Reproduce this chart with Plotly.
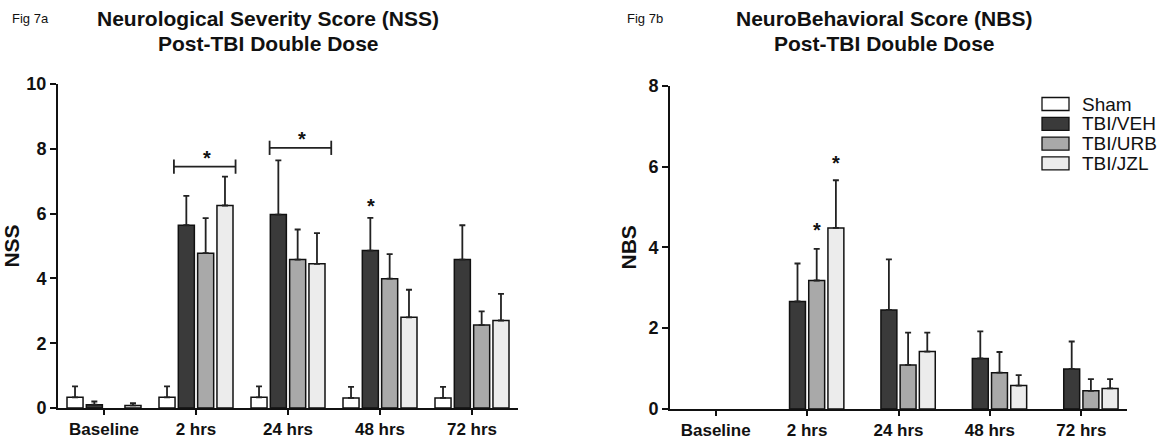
import plotly.graph_objects as go

categories = ["Baseline", "2 hrs", "24 hrs", "48 hrs", "72 hrs"]
groups = ["Sham", "TBI/VEH", "TBI/URB", "TBI/JZL"]
colors = ["#ffffff", "#3a3a3a", "#a9a9a9", "#ececec"]

# Fig 7a - NSS
nss_sham = [0.33, 0.33, 0.33, 0.31, 0.31]
nss_sham_err = [0.34, 0.34, 0.34, 0.34, 0.34]
nss_veh = [0.10, 5.64, 5.97, 4.86, 4.58]
nss_veh_err = [0.10, 0.91, 1.67, 1.01, 1.06]
nss_urb = [0.0, 4.78, 4.58, 3.99, 2.56]
nss_urb_err = [0.0, 1.08, 0.93, 0.76, 0.42]
nss_jzl = [0.08, 6.25, 4.45, 2.80, 2.70]
nss_jzl_err = [0.07, 0.89, 0.95, 0.85, 0.82]

# Fig 7b - NBS
nbs_sham = [0, 0, 0, 0, 0]
nbs_sham_err = [0, 0, 0, 0, 0]
nbs_veh = [0, 2.66, 2.45, 1.25, 0.99]
nbs_veh_err = [0, 0.94, 1.25, 0.67, 0.68]
nbs_urb = [0, 3.18, 1.09, 0.90, 0.45]
nbs_urb_err = [0, 0.78, 0.80, 0.51, 0.29]
nbs_jzl = [0, 4.48, 1.42, 0.58, 0.51]
nbs_jzl_err = [0, 1.18, 0.47, 0.26, 0.23]

nss_series = [(nss_sham, nss_sham_err), (nss_veh, nss_veh_err), (nss_urb, nss_urb_err), (nss_jzl, nss_jzl_err)]
nbs_series = [(nbs_sham, nbs_sham_err), (nbs_veh, nbs_veh_err), (nbs_urb, nbs_urb_err), (nbs_jzl, nbs_jzl_err)]

# significance marks: (x start, x end, y) in category units / data units
nss_brackets = [(0.76, 1.43, 7.45), (1.80, 2.47, 8.03)]
nss_stars = [(1.12, 7.85), (2.15, 8.43), (2.90, 6.35)]
nbs_stars = [(1.11, 4.52), (1.32, 6.19)]

FONT = "Liberation Sans, Arial, sans-serif"
INK = "#111111"
W, H = 1169, 441

fig = go.Figure()


def add_bars(series, xa, ya):
    for i, (name, col) in enumerate(zip(groups, colors)):
        vals, errs = series[i]
        # zero-height bars are not drawn in the original figure
        fig.add_trace(go.Bar(
            x=categories, y=[v if v > 0 else None for v in vals], name=name, xaxis=xa, yaxis=ya,
            marker=dict(color=col, line=dict(color=INK, width=1.5)),
            error_y=dict(type="data", symmetric=False,
                         array=[e if e > 0 else None for e in errs],
                         arrayminus=[0] * len(errs),
                         color="#222222", thickness=1.8, width=3),
            showlegend=False,
        ))


add_bars(nss_series, "x", "y")
add_bars(nbs_series, "x2", "y2")

axis_common = dict(showgrid=False, zeroline=False, showline=True, linecolor=INK, linewidth=2,
                   tickwidth=2, tickcolor=INK, automargin=False, ticks="outside")
xtick = dict(ticklen=5, tickfont=dict(family=FONT, size=17, color=INK, weight="bold"))
ytick = dict(ticklen=6, tickfont=dict(family=FONT, size=18, color=INK, weight="bold"))
ytitle_font = dict(family=FONT, size=21, color=INK, weight="bold")

fig.update_layout(
    width=W, height=H,
    margin=dict(l=0, r=0, t=0, b=0, pad=0, autoexpand=False),
    paper_bgcolor="white", plot_bgcolor="white",
    barmode="group", bargap=0.16, bargroupgap=0.17,
    showlegend=False,
    xaxis=dict(domain=[58 / W, 518 / W], anchor="y", range=[-0.5, 4.5], **axis_common, **xtick),
    yaxis=dict(domain=[1 - 408 / H, 1 - 84 / H], anchor="x", range=[0, 10], tickvals=[0, 2, 4, 6, 8, 10],
               title=dict(text="NSS", font=ytitle_font, standoff=6), **axis_common, **ytick),
    xaxis2=dict(domain=[670 / W, 1127 / W], anchor="y2", range=[-0.5, 4.5], **axis_common, **xtick),
    yaxis2=dict(domain=[1 - 409 / H, 1 - 85.7 / H], anchor="x2", range=[0, 8], tickvals=[0, 2, 4, 6, 8],
                title=dict(text="NBS", font=ytitle_font, standoff=6), **axis_common, **ytick),
)

shapes = []
for x0, x1, y in nss_brackets:
    shapes.append(dict(type="line", xref="x", yref="y", x0=x0, x1=x1, y0=y, y1=y, line=dict(color="#222", width=1.8)))
    for xx in (x0, x1):
        shapes.append(dict(type="line", xref="x", yref="y", x0=xx, x1=xx, y0=y - 0.22, y1=y + 0.22,
                           line=dict(color="#222", width=1.8)))

annotations = []
star_font = dict(family=FONT, size=20, color=INK, weight="bold")
for x, y in nss_stars:
    annotations.append(dict(x=x, y=y, xref="x", yref="y", text="*", showarrow=False,
                            font=star_font, yanchor="middle", yshift=-4))
for x, y in nbs_stars:
    annotations.append(dict(x=x, y=y, xref="x2", yref="y2", text="*", showarrow=False,
                            font=star_font, yanchor="middle", yshift=-4))

# legend (top right of Fig 7b)
for i, (name, col) in enumerate(zip(groups, colors)):
    yc = 104 + i * 19.8
    shapes.append(dict(type="rect", xref="paper", yref="paper",
                       x0=1042 / W, x1=1069 / W, y0=1 - (yc + 6.5) / H, y1=1 - (yc - 6.5) / H,
                       fillcolor=col, line=dict(color=INK, width=1.3)))
    annotations.append(dict(x=1080 / W, y=1 - yc / H, xref="paper", yref="paper", xanchor="left",
                            yanchor="middle", text=name, showarrow=False,
                            font=dict(family=FONT, size=19, color=INK)))

title_font = dict(family=FONT, size=21, color=INK, weight="bold")
small_font = dict(family=FONT, size=13, color=INK)
annotations += [
    dict(x=10 / W, y=1 - 19 / H, xref="paper", yref="paper", xanchor="left", yanchor="middle",
         text="Fig 7a", showarrow=False, font=small_font),
    dict(x=625 / W, y=1 - 19 / H, xref="paper", yref="paper", xanchor="left", yanchor="middle",
         text="Fig 7b", showarrow=False, font=small_font),
    dict(x=268 / W, y=1 - 19 / H, xref="paper", yref="paper", xanchor="center", yanchor="middle",
         text="Neurological Severity Score (NSS)", showarrow=False, font=title_font),
    dict(x=268 / W, y=1 - 43 / H, xref="paper", yref="paper", xanchor="center", yanchor="middle",
         text="Post-TBI Double Dose", showarrow=False, font=title_font),
    dict(x=884 / W, y=1 - 19 / H, xref="paper", yref="paper", xanchor="center", yanchor="middle",
         text="NeuroBehavioral Score (NBS)", showarrow=False, font=title_font),
    dict(x=884 / W, y=1 - 43 / H, xref="paper", yref="paper", xanchor="center", yanchor="middle",
         text="Post-TBI Double Dose", showarrow=False, font=title_font),
]
fig.update_layout(shapes=shapes, annotations=annotations)

fig.write_html(
    "out.html",
    config={"displayModeBar": False},
    post_script=("document.body.style.margin='0';document.body.style.overflow='hidden';"
                 "document.documentElement.style.overflow='hidden';"),
)
